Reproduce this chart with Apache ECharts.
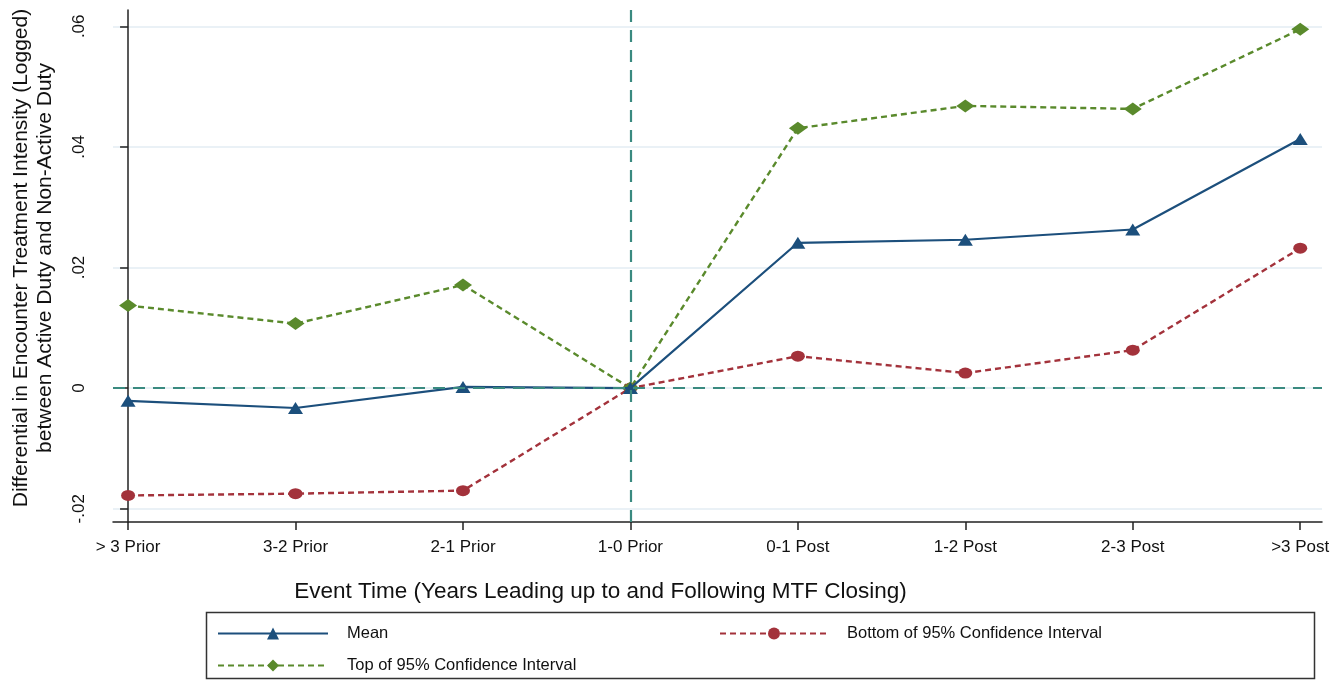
<!DOCTYPE html>
<html><head><meta charset="utf-8">
<script src="https://cdn.jsdelivr.net/npm/echarts@6/dist/echarts.min.js"></script>
<style>html,body{margin:0;padding:0;background:#fff}#c{width:1341px;height:681px}</style>
</head><body><div id="c"></div>
<script>
const categories = ['> 3 Prior','3-2 Prior','2-1 Prior','1-0 Prior','0-1 Post','1-2 Post','2-3 Post','>3 Post'];
const meanVals = [-0.0021, -0.0033, 0.0002, 0, 0.0241, 0.0246, 0.0263, 0.0413];
const topVals = [0.0137, 0.0107, 0.0171, 0, 0.0431, 0.0468, 0.0463, 0.0595];
const bottomVals = [-0.0178, -0.0175, -0.0170, 0, 0.0053, 0.0025, 0.0063, 0.0232];
const yTicks = [-0.02, 0, 0.02, 0.04, 0.06];
const yTickLabels = ['-.02', '0', '.02', '.04', '.06'];

const pts = a => a.map((v, i) => [i, v]);
const chart = echarts.init(document.getElementById('c'));
const font = 'Liberation Sans, Arial, sans-serif';
const narrow = 'Liberation Sans Narrow, Arial Narrow, Liberation Sans, sans-serif';
const cMean = '#1c4f7c', cTop = '#5a8a2c', cBot = '#a3323b', cRef = '#3a8a80';
const legText = {fontFamily: narrow, fontSize: 16.5, color: '#111', padding: [0, 0, 0, 14]};

chart.setOption({
  animation: false,
  grid: {left: 113, right: 19, top: 10, bottom: 159, outerBoundsMode: 'none', containLabel: false},
  xAxis: {
    type: 'value', min: -0.09, max: 7.13,
    axisLine: {show: true, onZero: false, lineStyle: {color: '#222', width: 1.5}},
    axisTick: {show: true, length: 8, lineStyle: {color: '#222', width: 1.5}, customValues: categories.map((c, i) => i)},
    axisLabel: {customValues: categories.map((c, i) => i), formatter: v => categories[Math.round(v)],
      color: '#111', fontSize: 17, fontFamily: font, margin: 17},
    splitLine: {show: false},
    name: 'Event Time (Years Leading up to and Following MTF Closing)',
    nameLocation: 'middle', nameGap: 58,
    nameTextStyle: {color: '#111', fontSize: 22.5, fontFamily: font, padding: [0, 234, 0, 0]}
  },
  yAxis: {
    type: 'value', min: -0.0222, max: 0.0627,
    axisLine: {show: true, lineStyle: {color: '#222', width: 1.5}},
    axisTick: {show: true, length: 8, lineStyle: {color: '#222', width: 1.5}, customValues: yTicks},
    axisLabel: {customValues: yTicks, formatter: v => yTickLabels[yTicks.findIndex(t => Math.abs(t - v) < 1e-9)],
      rotate: 90, color: '#111', fontSize: 17, fontFamily: font, margin: 34, align: 'center', verticalAlign: 'middle'},
    splitLine: {show: true, lineStyle: {color: '#e3ecf3', width: 1.5}, customValues: yTicks},
    name: 'Differential in Encounter Treatment Intensity (Logged)\nbetween Active Duty and Non-Active Duty',
    nameLocation: 'middle', nameGap: 56, nameRotate: 90,
    nameTextStyle: {color: '#111', fontSize: 21, fontFamily: font, lineHeight: 24, align: 'center', padding: [0, 0, 0, 16]}
  },
  legend: [
    {data: ['Mean'], left: 212, top: 620, itemWidth: 110, itemHeight: 15, textStyle: legText},
    {data: ['Bottom of 95% Confidence Interval'], left: 714, top: 620, itemWidth: 108, itemHeight: 15, textStyle: legText},
    {data: ['Top of 95% Confidence Interval'], left: 212, top: 652, itemWidth: 110, itemHeight: 15, textStyle: legText}
  ],
  graphic: [{type: 'rect', shape: {x: 206.5, y: 612.5, width: 1108, height: 66},
    style: {fill: 'none', stroke: '#333', lineWidth: 1.5}}],
  series: [
    {name: 'Mean', type: 'line', data: pts(meanVals), symbol: 'triangle', symbolSize: [15, 12],
      itemStyle: {color: cMean}, lineStyle: {color: cMean, width: 2.2},
      markLine: {silent: true, symbol: 'none', label: {show: false},
        lineStyle: {color: cRef, type: [12, 8], width: 2.2},
        data: [{yAxis: 0}, {xAxis: 3}]}, z: 3},
    {name: 'Bottom of 95% Confidence Interval', type: 'line', data: pts(bottomVals), symbol: 'circle', symbolSize: [14, 11],
      itemStyle: {color: cBot}, lineStyle: {color: cBot, width: 2.4, type: [6, 4]}, z: 2},
    {name: 'Top of 95% Confidence Interval', type: 'line', data: pts(topVals), symbol: 'diamond', symbolSize: [18, 13],
      itemStyle: {color: cTop}, lineStyle: {color: cTop, width: 2.4, type: [6, 4]}, z: 2}
  ]
});
</script></body></html>
